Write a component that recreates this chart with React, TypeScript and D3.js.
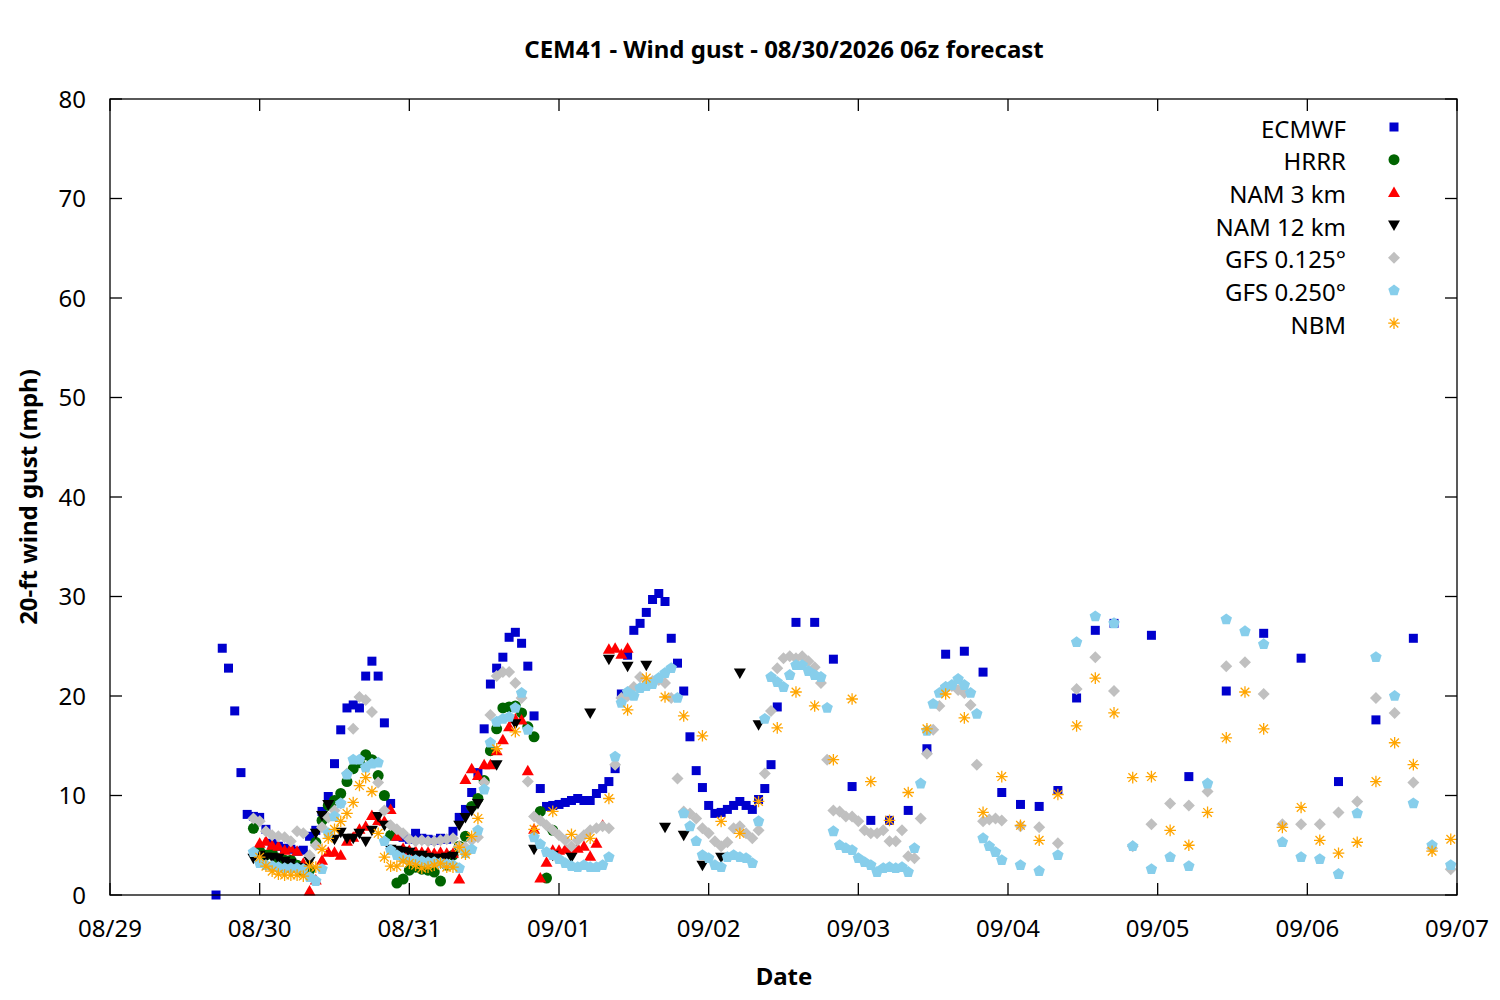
import React from "react";
import * as d3 from "d3";

// ---------- data (hours since 08/29 00:00, gust in mph) ----------
const DAY_LABELS = ["08/29", "08/30", "08/31", "09/01", "09/02", "09/03", "09/04", "09/05", "09/06", "09/07"];
const Y_TICKS = [0, 10, 20, 30, 40, 50, 60, 70, 80];

// ECMWF: hourly from h17, 3-hourly from h110, 6-hourly from h167
const ECMWF_H1 = [
  0.0, 24.8, 22.8, 18.5, 12.3, 8.1, 7.9, 7.8, 6.6, 5.2,
  4.9, 4.7, 4.6, 4.4, 4.5, 5.9, 6.5, 8.4, 9.9, 13.2,
  16.6, 18.8, 19.1, 18.8, 22.0, 23.5, 22.0, 17.3, 9.2, 5.9,
  5.8, 5.6, 6.2, 5.7, 5.6, 5.5, 5.7, 5.6, 6.4, 7.8,
  8.6, 10.3, 12.3, 16.7, 21.2, 22.8, 23.9, 25.9, 26.4, 25.3,
  23.0, 18.0, 10.7, 8.9, 9.0, 9.1, 9.3, 9.5, 9.7, 9.5,
  9.5, 10.2, 10.7, 11.4, 12.7, 20.2, 24.1, 26.6, 27.3, 28.4,
  29.7, 30.3, 29.5, 25.8, 23.3, 20.5, 15.9, 12.5, 10.8, 9.0,
  8.2, 8.3, 8.6, 9.0, 9.4, 9.0, 8.6, 9.6, 10.7, 13.1,
  18.9,
];
const ECMWF_H3 = [27.4, 27.4, 23.7, 10.9, 7.5, 7.5, 8.5, 14.7, 24.2, 24.5, 22.4, 10.3, 9.1, 8.9, 10.5, 19.8, 26.6, 27.3];
const ECMWF_H6 = [26.1, 11.9, 20.5, 26.3, 23.8, 11.4, 17.6, 25.8];

// HRRR: hourly from h23
const HRRR_H1 = [
  6.7, 4.4, 4.0, 4.3, 3.7, 3.5, 3.5, 3.0, 2.4, 2.5,
  5.3, 7.5, 9.0, 9.5, 10.2, 11.4, 12.7, 13.3, 14.1, 13.6,
  12.0, 10.0, 6.0, 1.2, 1.6, 2.5, 2.8, 2.6, 2.5, 2.3,
  1.4, 3.0, 4.0, 4.9, 5.9, 8.9, 9.7, 11.5, 14.5, 16.7,
  18.8, 18.9, 19.0, 18.3, 16.9, 15.9, 8.4, 1.7, 6.5,
];

// NAM 3 km: hourly from h24
const NAM3_H1 = [
  5.2, 5.4, 5.0, 4.9, 4.5, 4.7, 4.4, 3.2, 0.4, 1.5,
  3.5, 4.3, 4.3, 4.0, 5.4, 5.8, 6.6, 6.9, 8.0, 7.5,
  7.4, 8.6, 5.9, 4.7, 4.5, 4.4, 4.3, 4.3, 4.2, 4.3,
  4.2, 4.2, 1.6, 11.6, 12.7, 12.0, 13.1, 13.1, 14.5, 15.6,
  16.9, 17.7, 17.6, 12.5, 6.6, 1.7, 3.3, 4.5, 4.5, 4.6,
  4.6, 4.7, 4.9, 3.9, 5.2, 7.0, 24.7, 24.8, 24.2, 24.8,
];

// NAM 12 km: hourly from h23, 3-hourly from h62
const NAM12_H1 = [
  3.7, 4.0, 3.8, 3.8, 3.7, 3.4, 3.2, 2.8, 2.7, 3.4,
  6.2, 8.0, 9.1, 5.6, 6.3, 5.7, 5.7, 6.2, 5.4, 6.5,
  7.9, 7.0, 4.6, 4.5, 4.4, 4.3, 4.0, 4.0, 3.8, 3.7,
  3.7, 3.8, 3.9, 7.0, 7.8, 8.5, 9.2,
];
const NAM12_H3 = [13.1, 17.2, 4.6, 4.0, 3.8, 18.3, 23.7, 23.0, 23.1, 6.8, 6.0, 3.0, 3.8, 22.3, 17.1];

// GFS 0.125: hourly from h23, 3-hourly from h146
const GFS125_H1 = [
  7.7, 7.4, 6.4, 6.0, 5.9, 5.8, 5.4, 6.4, 6.2, 4.0,
  5.0, 6.8, 7.8, 8.5, 9.2, 12.2, 16.7, 19.9, 19.6, 18.4,
  11.3, 8.5, 7.0, 6.6, 6.2, 5.6, 5.4, 5.5, 5.4, 5.4,
  5.5, 5.6, 5.7, 4.9, 4.8, 5.5, 5.8, 11.3, 18.1, 22.0,
  22.4, 22.4, 21.3, 19.8, 11.4, 7.9, 7.5, 7.0, 6.5, 6.0,
  5.5, 4.9, 5.5, 6.0, 6.5, 6.7, 6.9, 6.7, 13.1, 19.8,
  20.0, 20.9, 21.9, 21.2, 21.5, 21.6, 21.3, 19.8, 11.7, 8.4,
  8.2, 7.7, 6.7, 6.2, 5.4, 4.9, 5.3, 6.7, 6.9, 6.2,
  5.7, 6.5, 12.2, 18.5, 22.8, 23.8, 24.0, 23.8, 24.0, 23.5,
  22.9, 21.3, 13.6, 8.5, 8.4, 7.9, 7.9, 7.4, 6.5, 6.2,
  6.2, 6.5, 5.4, 5.4, 6.5, 3.9, 3.7, 7.7, 14.2, 16.6,
  19.0, 20.9, 21.0, 20.6, 20.3, 19.1, 13.1, 7.4, 7.6, 7.7,
  7.5,
];
const GFS125_H3 = [6.9, 6.8, 5.2, 20.7, 23.9, 20.5, 4.9, 7.1, 9.2, 9.0, 10.4, 23.0, 23.4, 20.2, 7.1, 7.1, 7.1, 8.3, 9.4, 19.8, 18.3, 11.3, 4.7, 2.6];

// GFS 0.250: hourly from h23, 3-hourly from h146
const GFS250_H1 = [
  4.3, 3.2, 3.0, 2.9, 2.8, 2.7, 2.7, 2.7, 2.6, 1.8,
  1.4, 2.6, 6.2, 7.9, 9.2, 12.1, 13.6, 13.6, 12.8, 13.2,
  13.3, 5.4, 4.5, 4.0, 3.7, 3.5, 3.5, 3.4, 3.3, 3.3,
  3.2, 3.1, 3.0, 2.7, 4.2, 4.6, 6.5, 10.6, 15.3, 17.4,
  17.7, 17.9, 18.8, 20.3, 16.6, 5.8, 5.1, 4.3, 4.0, 3.6,
  3.2, 2.9, 2.8, 3.0, 2.8, 2.8, 3.0, 3.8, 13.9, 19.3,
  20.4, 20.0, 20.8, 21.0, 21.2, 21.8, 22.3, 22.8, 19.8, 8.2,
  6.9, 5.4, 4.0, 3.7, 3.0, 2.8, 3.8, 4.0, 3.8, 3.7,
  3.2, 7.4, 17.7, 21.9, 21.4, 20.9, 22.1, 23.1, 23.1, 22.5,
  22.1, 21.9, 18.8, 6.4, 5.0, 4.7, 4.5, 3.7, 3.3, 3.0,
  2.3, 2.7, 2.8, 2.7, 2.8, 2.3, 4.7, 11.2, 16.5, 19.2,
  20.3, 20.9, 21.1, 21.7, 21.1, 20.3, 18.2, 5.7, 4.9, 4.3,
  3.5,
];
const GFS250_H3 = [3.0, 2.4, 4.0, 25.4, 28.0, 27.3, 4.9, 2.6, 3.8, 2.9, 11.2, 27.7, 26.5, 25.2, 5.3, 3.8, 3.6, 2.1, 8.2, 23.9, 20.0, 9.2, 5.0, 3.0];

// NBM: hourly from h24, 3-hourly from h62
const NBM_H1 = [
  3.8, 2.9, 2.4, 2.1, 2.0, 2.0, 2.0, 1.9, 2.9, 2.8,
  4.6, 5.7, 6.6, 7.4, 8.2, 9.3, 11.0, 11.8, 10.4, 6.2,
  3.8, 2.9, 2.9, 3.4, 3.2, 3.0, 2.7, 2.8, 3.0, 3.2,
  2.8, 2.8, 4.8, 4.1, 5.9, 7.7,
];
const NBM_H3 = [
  14.7, 16.4, 6.6, 8.4, 6.1, 5.7, 9.7, 18.6, 21.8, 19.9,
  18.0, 16.0, 7.4, 6.2, 9.4, 16.8, 20.4, 19.0, 13.6, 19.7,
  11.4, 7.5, 10.3, 16.7, 20.2, 17.8, 8.3, 11.9, 7.0, 5.5,
  10.1, 17.0, 21.8, 18.3, 11.8, 11.9, 6.5, 5.0, 8.3, 15.8,
  20.4, 16.7, 6.8, 8.8, 5.5, 4.2, 5.3, 11.4, 15.3, 13.1,
  4.4, 5.6,
];

// ---------- helpers ----------
type Pt = { h: number; v: number };
const seg = (start: number, step: number, vals: number[]): Pt[] =>
  vals.map((v, i) => ({ h: start + i * step, v }));

type Marker = "square" | "circle" | "triUp" | "triDown" | "diamond" | "pentagon" | "star";

const SERIES: { name: string; color: string; marker: Marker; pts: Pt[] }[] = [
  { name: "ECMWF", color: "#0000cd", marker: "square", pts: [...seg(17, 1, ECMWF_H1), ...seg(110, 3, ECMWF_H3), ...seg(167, 6, ECMWF_H6)] },
  { name: "HRRR", color: "#006400", marker: "circle", pts: seg(23, 1, HRRR_H1) },
  { name: "NAM 3 km", color: "#ff0000", marker: "triUp", pts: seg(24, 1, NAM3_H1) },
  { name: "NAM 12 km", color: "#000000", marker: "triDown", pts: [...seg(23, 1, NAM12_H1), ...seg(62, 3, NAM12_H3)] },
  { name: "GFS 0.125°", color: "#c0c0c0", marker: "diamond", pts: [...seg(23, 1, GFS125_H1), ...seg(146, 3, GFS125_H3)] },
  { name: "GFS 0.250°", color: "#87ceeb", marker: "pentagon", pts: [...seg(23, 1, GFS250_H1), ...seg(146, 3, GFS250_H3)] },
  { name: "NBM", color: "#ffa500", marker: "star", pts: [...seg(24, 1, NBM_H1), ...seg(62, 3, NBM_H3)] },
];

function markerPath(m: Marker): string {
  switch (m) {
    case "square": return "M-4.5,-4.5H4.5V4.5H-4.5Z";
    case "circle": return "M5.5,0A5.5,5.5 0 1 1 -5.5,0A5.5,5.5 0 1 1 5.5,0Z";
    case "triUp": return "M0,-6L6,4.5L-6,4.5Z";
    case "triDown": return "M0,6L6,-4.5L-6,-4.5Z";
    case "diamond": return "M0,-6L6,0L0,6L-6,0Z";
    case "pentagon": {
      const r = 6;
      const p = d3.range(5).map((i) => {
        const a = (-90 + 72 * i) * Math.PI / 180;
        return `${(r * Math.cos(a)).toFixed(2)},${(r * Math.sin(a)).toFixed(2)}`;
      });
      return "M" + p.join("L") + "Z";
    }
    case "star": {
      const s = 5.8, k = 4.3;
      return `M${-s},0H${s}M0,${-s}V${s}M${-k},${-k}L${k},${k}M${-k},${k}L${k},${-k}`;
    }
  }
}

const W = 1500, H = 1000;
const L = 110, R = 1457, T = 99, B = 895;
const FONT = "'Noto Sans', 'Open Sans', sans-serif";
const FS = 24;

export default function App() {
  const x = d3.scaleLinear().domain([0, 216]).range([L, R]);
  const y = d3.scaleLinear().domain([0, 80]).range([B, T]);
  const xTicks = DAY_LABELS.map((_, i) => i * 24);
  const tickLen = 12;

  return (
    <svg width={W} height={H} style={{ position: "absolute", left: 0, top: 0, background: "#fff" }} fontFamily={FONT}>
      <rect x={0} y={0} width={W} height={H} fill="#fff" />
      <text x={784} y={58} textAnchor="middle" fontSize={FS} fontWeight="bold">CEM41 - Wind gust - 08/30/2026 06z forecast</text>

      {/* data */}
      <g>
        {SERIES.map((s) => (
          <g key={s.name}>
            {s.pts.map((p, i) => (
              <path
                key={i}
                d={markerPath(s.marker)}
                transform={`translate(${x(p.h)},${y(p.v)})`}
                fill={s.marker === "star" ? "none" : s.color}
                stroke={s.marker === "star" ? s.color : "none"}
                strokeWidth={s.marker === "star" ? 1.3 : 0}
              />
            ))}
          </g>
        ))}
      </g>

      {/* frame and ticks */}
      <rect x={L} y={T} width={R - L} height={B - T} fill="none" stroke="#000" strokeWidth={1.3} />
      {Y_TICKS.map((t) => (
        <g key={"y" + t}>
          <line x1={L} x2={L + tickLen} y1={y(t)} y2={y(t)} stroke="#000" strokeWidth={1.3} />
          <line x1={R} x2={R - tickLen} y1={y(t)} y2={y(t)} stroke="#000" strokeWidth={1.3} />
          <text x={L - 24} y={y(t) + 8.5} textAnchor="end" fontSize={FS}>{t}</text>
        </g>
      ))}
      {xTicks.map((t, i) => (
        <g key={"x" + t}>
          <line x1={x(t)} x2={x(t)} y1={B} y2={B - tickLen} stroke="#000" strokeWidth={1.3} />
          <line x1={x(t)} x2={x(t)} y1={T} y2={T + tickLen} stroke="#000" strokeWidth={1.3} />
          <text x={x(t)} y={937} textAnchor="middle" fontSize={FS}>{DAY_LABELS[i]}</text>
        </g>
      ))}

      <text x={784} y={985} textAnchor="middle" fontSize={FS} fontWeight="bold">Date</text>
      <text transform={`translate(37,497) rotate(-90)`} textAnchor="middle" fontSize={FS} fontWeight="bold">20-ft wind gust (mph)</text>

      {/* legend */}
      {SERIES.map((s, i) => {
        const ly = 129 + i * 32.7;
        return (
          <g key={"lg" + s.name}>
            <text x={1346} y={ly + 8.5} textAnchor="end" fontSize={FS}>{s.name}</text>
            <path
              d={markerPath(s.marker)}
              transform={`translate(1394,${ly - 2})`}
              fill={s.marker === "star" ? "none" : s.color}
              stroke={s.marker === "star" ? s.color : "none"}
              strokeWidth={s.marker === "star" ? 1.3 : 0}
            />
          </g>
        );
      })}
    </svg>
  );
}
